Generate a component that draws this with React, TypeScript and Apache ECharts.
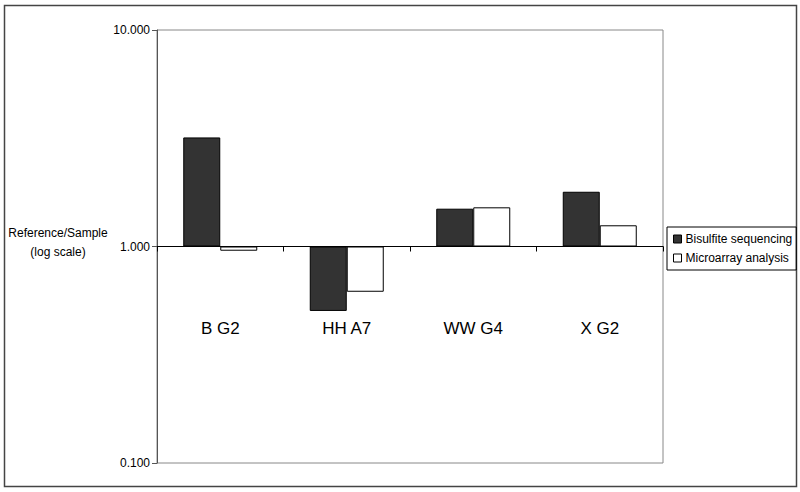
import React, { useEffect, useRef } from "react";
import * as echarts from "echarts";

const categories = ["B G2", "HH A7", "WW G4", "X G2"];
const bisulfite = [3.19, 0.504, 1.495, 1.79];
const microarray = [0.956, 0.618, 1.517, 1.253];
const seriesNames = ["Bisulfite sequencing", "Microarray analysis"];
const yTicks = [0.1, 1, 10];

export default function App() {
  const ref = useRef<HTMLDivElement>(null);
  useEffect(() => {
    document.body.style.margin = "0";
    const chart = echarts.init(ref.current!, null, { renderer: "svg" });
    const font = "Arial, 'Liberation Sans', sans-serif";
    chart.setOption({
      animation: false,
      backgroundColor: "#fff",
      grid: {
        left: 157,
        right: 137,
        top: 30,
        bottom: 29,
        show: true,
        borderColor: "#888",
        borderWidth: 1,
        containLabel: false,
        outerBoundsMode: "none",
      },
      legend: {
        orient: "vertical",
        left: 667,
        top: 227,
        width: 127,
        borderColor: "#000",
        borderWidth: 1,
        padding: [6, 4, 6, 6],
        itemWidth: 8,
        itemHeight: 8,
        itemGap: 7,
        icon: "rect",
        textStyle: { fontFamily: font, fontSize: 12, color: "#000", padding: [0, 0, 0, -1] },
        data: [
          { name: seriesNames[0], itemStyle: { color: "#333", borderColor: "#000", borderWidth: 1 } },
          { name: seriesNames[1], itemStyle: { color: "#fff", borderColor: "#000", borderWidth: 1 } },
        ],
      },
      xAxis: [
        {
          type: "category",
          data: categories,
          axisLine: { onZero: true, lineStyle: { color: "#000", width: 1 } },
          axisTick: { show: true, length: 5, interval: 0, lineStyle: { color: "#000" } },
          axisLabel: { show: false },
        },
        {
          type: "category",
          data: categories,
          position: "bottom",
          offset: -216,
          z: 10,
          axisLine: { show: false, onZero: false },
          axisTick: { show: false },
          axisLabel: { margin: 73, fontFamily: font, fontSize: 17, color: "#000" },
        },
      ],
      yAxis: {
        type: "value",
        min: Math.log10(yTicks[0]),
        max: Math.log10(yTicks[2]),
        interval: 1,
        axisLine: { show: true, lineStyle: { color: "#555", width: 1 } },
        axisTick: { show: true, length: 5, lineStyle: { color: "#555" } },
        splitLine: { show: false },
        axisLabel: {
          margin: 7,
          fontFamily: font,
          fontSize: 12,
          color: "#000",
          formatter: (v: number) => Math.pow(10, v).toFixed(3),
        },
      },
      series: [
        {
          name: seriesNames[0],
          type: "bar",
          barWidth: 37,
          barGap: "0%",
          data: bisulfite.map((v) => Math.log10(v)),
          itemStyle: { color: "#333", borderColor: "#000", borderWidth: 1 },
        },
        {
          name: seriesNames[1],
          type: "bar",
          barWidth: 37,
          barGap: "0%",
          data: microarray.map((v) => Math.log10(v)),
          itemStyle: { color: "#fff", borderColor: "#000", borderWidth: 1 },
        },
      ],
      graphic: [
        {
          type: "rect",
          shape: { x: 4.5, y: 5.5, width: 792, height: 481 },
          style: { fill: "none", stroke: "#444", lineWidth: 1.5 },
          silent: true,
        },
        {
          type: "text",
          x: 58,
          y: 233,
          style: { text: "Reference/Sample", fontFamily: font, fontSize: 12, fill: "#000", align: "center", verticalAlign: "middle" },
        },
        {
          type: "text",
          x: 58,
          y: 252,
          style: { text: "(log scale)", fontFamily: font, fontSize: 12, fill: "#000", align: "center", verticalAlign: "middle" },
        },
      ],
    });
    return () => chart.dispose();
  }, []);
  return <div ref={ref} style={{ position: "absolute", left: 0, top: 0, width: 800, height: 492 }} />;
}
